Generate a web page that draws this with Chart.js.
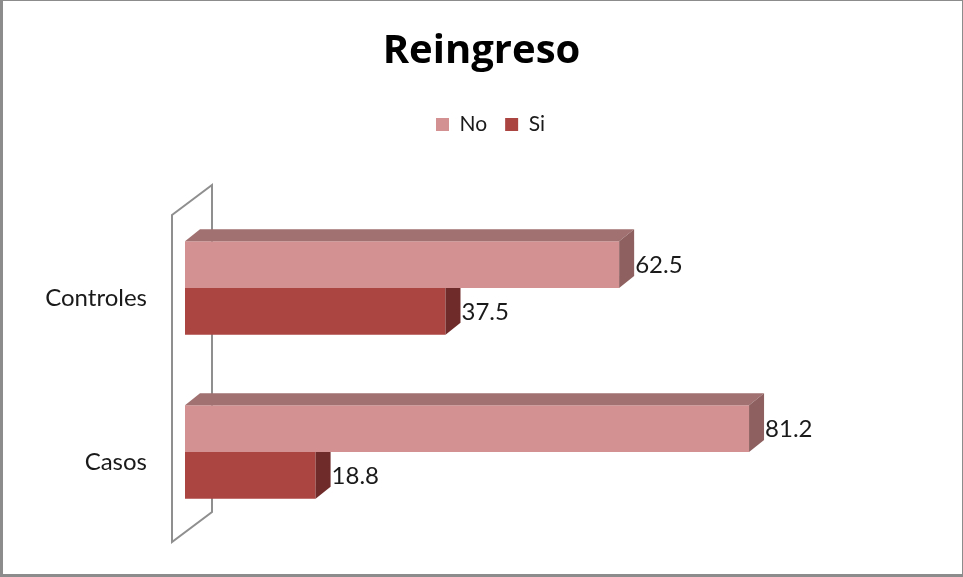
<!DOCTYPE html>
<html>
<head>
<meta charset="utf-8">
<title>Reingreso</title>
<script src="https://cdn.jsdelivr.net/npm/chart.js@4.4.0/dist/chart.umd.min.js"></script>
<style>
  html, body { margin: 0; padding: 0; background: #fff; }
  #wrap { width: 963px; height: 577px; }
</style>
</head>
<body>
<div id="wrap"><canvas id="chartReingreso" width="963" height="577"></canvas></div>
<script>
// datos
const categorias = ["Controles", "Casos"];
const series = ["No", "Si"];
const valoresNo = [62.5, 81.2];
const valoresSi = [37.5, 18.8];

const colorNo = "#D39291";
const colorSi = "#AB4542";

// caras de profundidad de cada serie (arriba / lado derecho)
const caras = [
  { top: "#A07170", side: "#8E6160" },
  { top: "#7E3230", side: "#6F2B29" },
];
const dx = 15;
const dy = 12;

const fuente = "Lato, 'Open Sans', sans-serif";

// fondo y marco
const marco = {
  id: "marco",
  beforeDraw(chart) {
    const ctx = chart.ctx;
    ctx.save();
    ctx.fillStyle = "#ffffff";
    ctx.fillRect(0, 0, chart.width, chart.height);
    ctx.strokeStyle = "#8c8c8c";
    ctx.lineWidth = 1;
    ctx.strokeRect(0.5, 0.5, chart.width - 1, chart.height - 1);
    ctx.fillStyle = "#8c8c8c";
    ctx.fillRect(0, 0, 3, chart.height);
    ctx.fillRect(0, chart.height - 3, chart.width, 3);
    ctx.restore();
  },
};

// la leyenda suma el padding del último item al centrar; se compensa la mitad
const leyendaCentrada = {
  id: "leyendaCentrada",
  afterLayout(chart) {
    const pad = chart.options.plugins.legend.labels.padding / 2;
    chart.legend.left += pad;
    chart.legend.right += pad;
  },
};

// pared del eje vertical
const pared = {
  id: "pared",
  beforeDatasetsDraw(chart) {
    const { ctx, chartArea } = chart;
    const xf = chartArea.left - 13;
    const xb = chartArea.left + 27;
    ctx.save();
    ctx.strokeStyle = "#8f8f8f";
    ctx.lineWidth = 2;
    ctx.beginPath();
    ctx.moveTo(xf, chartArea.top + 9);
    ctx.lineTo(xb, chartArea.top - 21);
    ctx.lineTo(xb, chartArea.bottom - 22);
    ctx.lineTo(xf, chartArea.bottom + 8);
    ctx.closePath();
    ctx.stroke();
    ctx.restore();
  },
};

// caras superior y lateral de las barras
const barras3d = {
  id: "barras3d",
  afterDatasetDraw(chart, args) {
    const ctx = chart.ctx;
    const c = caras[args.index];
    ctx.save();
    args.meta.data.forEach((bar) => {
      const { x, y, base, height } = bar.getProps(["x", "y", "base", "height"], true);
      const top = y - height / 2;
      const bottom = y + height / 2;
      ctx.fillStyle = c.top;
      ctx.beginPath();
      ctx.moveTo(base, top);
      ctx.lineTo(base + dx, top - dy);
      ctx.lineTo(x + dx, top - dy);
      ctx.lineTo(x, top);
      ctx.closePath();
      ctx.fill();
      ctx.fillStyle = c.side;
      ctx.beginPath();
      ctx.moveTo(x, top);
      ctx.lineTo(x + dx, top - dy);
      ctx.lineTo(x + dx, bottom - dy);
      ctx.lineTo(x, bottom);
      ctx.closePath();
      ctx.fill();
    });
    ctx.restore();
  },
};

// etiquetas de valor
const etiquetas = {
  id: "etiquetas",
  afterDatasetsDraw(chart) {
    const ctx = chart.ctx;
    ctx.save();
    ctx.font = "24px " + fuente;
    ctx.fillStyle = "#1a1a1a";
    ctx.textAlign = "left";
    ctx.textBaseline = "middle";
    chart.data.datasets.forEach((ds, i) => {
      chart.getDatasetMeta(i).data.forEach((bar, j) => {
        ctx.fillText(ds.data[j].toFixed(1), bar.x + dx + 1, bar.y + 1);
      });
    });
    ctx.restore();
  },
};

const ctxReingreso = document.getElementById("chartReingreso").getContext("2d");

const chartReingreso = new Chart(ctxReingreso, {
  type: "bar",
  data: {
    labels: categorias,
    datasets: [
      {
        label: series[0],
        data: valoresNo,
        backgroundColor: colorNo,
        borderWidth: 0,
      },
      {
        label: series[1],
        data: valoresSi,
        backgroundColor: colorSi,
        borderWidth: 0,
      },
    ],
  },
  options: {
    indexAxis: "y",
    responsive: false,
    animation: false,
    devicePixelRatio: 1,
    barPercentage: 1,
    categoryPercentage: 0.5714,
    layout: {
      padding: { left: 0, right: 0, top: 0, bottom: 43 },
    },
    scales: {
      x: {
        position: "top",
        min: 0,
        max: 112,
        ticks: { display: false },
        grid: { display: false, drawTicks: false },
        border: { display: false },
        afterFit: (scale) => {
          scale.height = 61;
        },
      },
      y: {
        ticks: {
          padding: 38,
          labelOffset: 10,
          color: "#1a1a1a",
          font: { family: fuente, size: 24 },
        },
        grid: { display: false, drawTicks: false },
        border: { display: false },
        afterFit: (scale) => {
          scale.width = 185;
          scale.paddingTop = 0;
          scale.paddingBottom = 0;
        },
      },
    },
    plugins: {
      title: {
        display: true,
        text: "Reingreso",
        color: "#000000",
        font: { family: "'Open Sans', sans-serif", size: 40, weight: "bold" },
        padding: { top: 28, bottom: 20 },
      },
      legend: {
        position: "top",
        labels: {
          boxWidth: 13,
          boxHeight: 13,
          padding: 18,
          color: "#1a1a1a",
          font: { family: fuente, size: 21 },
        },
      },
      tooltip: { enabled: false },
    },
  },
  plugins: [marco, leyendaCentrada, pared, barras3d, etiquetas],
});
</script>
</body>
</html>
